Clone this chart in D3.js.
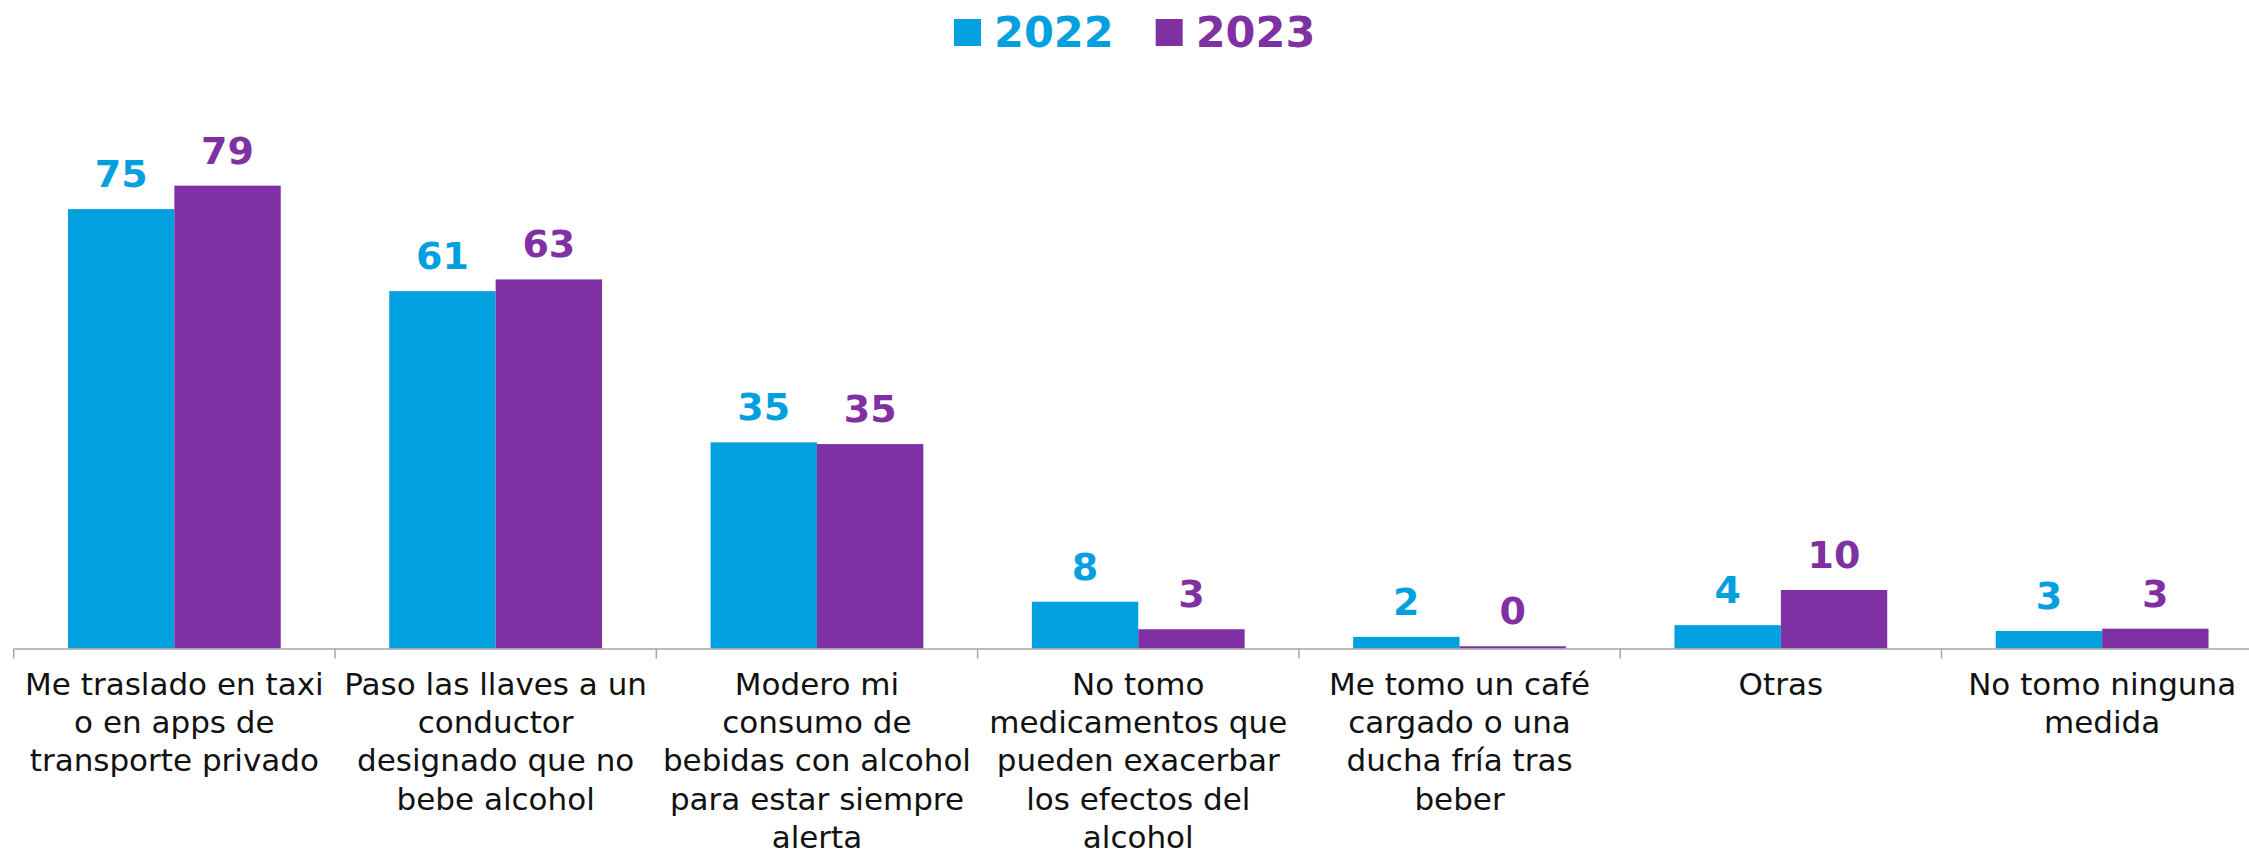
<!DOCTYPE html>
<html>
<head>
<meta charset="utf-8">
<script src="https://cdn.jsdelivr.net/npm/d3@7"></script>
<style>
  html, body { margin: 0; padding: 0; background: #fff; }
  svg { display: block; }
</style>
</head>
<body>
<svg id="chart"></svg>
<script>
var width = 2249;
var height = 855;

// categories, line breaks as in the original
var categories = [
  "Me traslado en taxi\no en apps de\ntransporte privado",
  "Paso las llaves a un\nconductor\ndesignado que no\nbebe alcohol",
  "Modero mi\nconsumo de\nbebidas con alcohol\npara estar siempre\nalerta",
  "No tomo\nmedicamentos que\npueden exacerbar\nlos efectos del\nalcohol",
  "Me tomo un café\ncargado o una\nducha fría tras\nbeber",
  "Otras",
  "No tomo ninguna\nmedida"
];
var seriesNames = ["2022", "2023"];
var values2022 = [75, 61, 35.2, 8, 2, 4, 3];
var values2023 = [79, 63, 34.9, 3.3, 0.4, 10, 3.4];
var seriesColors = ["#02A0DF", "#7F30A3"];

var data = categories.map(function(c, i) {
  return { cat: c, vals: [values2022[i], values2023[i]] };
});

var svg = d3.select("#chart").attr("width", width).attr("height", height);

var axisLeft = 13.7;
var catStep = 321.3;
var baseY = 648.6;

var x0 = d3.scaleBand()
  .domain(categories)
  .range([axisLeft, axisLeft + catStep * categories.length])
  .padding(0);

var x1 = d3.scaleBand()
  .domain(seriesNames)
  .range([0, x0.bandwidth()])
  .paddingInner(0)
  .paddingOuter(0.51);

var y = d3.scaleLinear()
  .domain([0, 90])
  .range([baseY, baseY - 90 * 5.86]);

var fmt = d3.format(".0f");

// bars
var groups = svg.append("g")
  .selectAll("g")
  .data(data)
  .enter()
  .append("g")
  .attr("transform", function(d) { return "translate(" + x0(d.cat) + ",0)"; });

groups.selectAll("rect")
  .data(function(d) { return d.vals.map(function(v, j) { return { s: seriesNames[j], v: v, j: j }; }); })
  .enter()
  .append("rect")
  .attr("x", function(d) { return x1(d.s); })
  .attr("y", function(d) { return y(d.v); })
  .attr("width", x1.bandwidth())
  .attr("height", function(d) { return baseY - y(d.v); })
  .attr("fill", function(d) { return seriesColors[d.j]; });

// data labels
groups.selectAll("text.val")
  .data(function(d) { return d.vals.map(function(v, j) { return { s: seriesNames[j], v: v, j: j }; }); })
  .enter()
  .append("text")
  .attr("class", "val")
  .attr("x", function(d) { return x1(d.s) + x1.bandwidth() / 2; })
  .attr("y", function(d) { return y(d.v) - 22; })
  .attr("text-anchor", "middle")
  .style("font-family", "'DejaVu Sans', sans-serif")
  .style("font-weight", "bold")
  .style("font-size", "38px")
  .attr("fill", function(d) { return seriesColors[d.j]; })
  .text(function(d) { return fmt(d.v); });

// x axis
var xAxis = d3.axisBottom(x0)
  .tickSize(0)
  .tickFormat("");

var axisG = svg.append("g")
  .attr("transform", "translate(0," + baseY + ")")
  .call(xAxis);
axisG.select(".domain").attr("stroke", "#A6A6A6").attr("stroke-width", 1.5);

// tick marks at category boundaries
var bounds = categories.map(function(c) { return x0(c); }).concat([x0.range()[1]]);
axisG.selectAll("line.sep")
  .data(bounds)
  .enter()
  .append("line")
  .attr("class", "sep")
  .attr("x1", function(d) { return d; })
  .attr("x2", function(d) { return d; })
  .attr("y1", 0)
  .attr("y2", 10)
  .attr("stroke", "#A6A6A6")
  .attr("stroke-width", 1.5);

// category labels
var catLabels = svg.append("g")
  .selectAll("text")
  .data(categories)
  .enter()
  .append("text")
  .attr("text-anchor", "middle")
  .attr("x", function(d) { return x0(d) + x0.bandwidth() / 2; })
  .attr("y", 695)
  .style("font-family", "'DejaVu Sans', sans-serif")
  .style("font-size", "31px")
  .attr("fill", "#111");

catLabels.each(function(d) {
  var t = d3.select(this);
  var cx = x0(d) + x0.bandwidth() / 2;
  d.split("\n").forEach(function(line, i) {
    t.append("tspan")
      .attr("x", cx)
      .attr("dy", i === 0 ? 0 : 38.2)
      .text(line);
  });
});

// legend
var legend = svg.append("g").attr("transform", "translate(954,0)");
var lx = 0;
seriesNames.forEach(function(name, i) {
  legend.append("rect")
    .attr("x", lx)
    .attr("y", 19)
    .attr("width", 27)
    .attr("height", 27)
    .attr("fill", seriesColors[i]);
  var txt = legend.append("text")
    .attr("x", lx + 40)
    .attr("y", 47)
    .style("font-family", "'DejaVu Sans', sans-serif")
    .style("font-weight", "bold")
    .style("font-size", "43px")
    .attr("fill", seriesColors[i])
    .text(name);
  lx = lx + 40 + txt.node().getComputedTextLength() + 42;
});
</script>
</body>
</html>
